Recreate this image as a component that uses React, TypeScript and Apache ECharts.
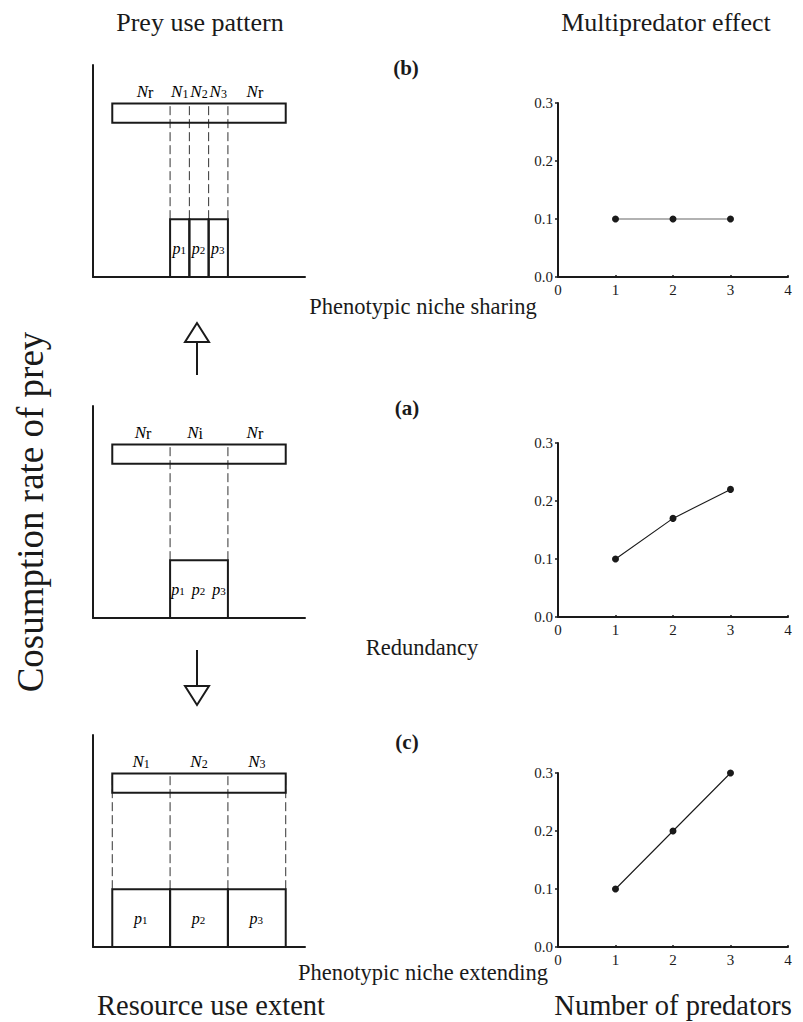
import React, { useEffect, useRef } from "react";
import * as echarts from "echarts";

// ---------- right-hand panels: multipredator effect ----------
const predators = [1, 2, 3];
const sharingEffect = [0.1, 0.1, 0.1];
const redundancyEffect = [0.1, 0.17, 0.22];
const extendingEffect = [0.1, 0.2, 0.3];
const xTickLabels = ["0", "1", "2", "3", "4"];
const yTickLabels = ["0.0", "0.1", "0.2", "0.3"];

// ---------- left-hand schematics (units: thirds of a niche width) ----------
const resourceBar = [1, 10, 8, 9]; // x0, x1, y0, y1 of the prey resource bar
const consumption = 3; // height of predator consumption blocks
const sharingParts = [[4, 5], [5, 6], [6, 7]];
const redundancyParts = [[4, 7]];
const extendingParts = [[1, 4], [4, 7], [7, 10]];
const sharingBounds = [4, 5, 6, 7];
const redundancyBounds = [4, 7];
const extendingBounds = [1, 4, 7, 10];
const sharingNames = ["r", "1", "2", "3", "r"];
const sharingNamePos = [2.7, 4.5, 5.5, 6.5, 8.4];
const redundancyNames = ["r", "i", "r"];
const redundancyNamePos = [2.6, 5.3, 8.4];
const extendingNames = ["1", "2", "3"];
const extendingNamePos = [2.5, 5.5, 8.5];
const sharingP = ["1", "2", "3"];
const sharingPPos = [4.5, 5.5, 6.5];
const redundancyP = ["1 ", "2 ", "3"];
const redundancyPPos = [5.5];
const extendingP = ["1", "2", "3"];
const extendingPPos = [2.5, 5.5, 8.5];
const nameY = 9.6;
const pY = 1.5;

const FONT = "Liberation Serif";
const INK = "#1a1a1a";

const rich = {
  i: { fontFamily: FONT, fontStyle: "italic", fontSize: 17, color: INK },
  s: { fontFamily: FONT, fontSize: 12, color: INK, padding: [5, 0, 0, 0] },
  u: { fontFamily: FONT, fontSize: 16, color: INK, padding: [2, 0, 0, 0] },
  pi: { fontFamily: FONT, fontStyle: "italic", fontSize: 16, color: INK },
  ps: { fontFamily: FONT, fontSize: 11, color: INK, padding: [4, 1, 0, 0] },
};

function rectSeries(gi: number, data: number[][], lw: number) {
  return {
    type: "custom",
    xAxisIndex: gi,
    yAxisIndex: gi,
    silent: true,
    data,
    renderItem: (params: any, api: any) => {
      const p0 = api.coord([api.value(0), api.value(3)]);
      const p1 = api.coord([api.value(1), api.value(2)]);
      return {
        type: "rect",
        shape: { x: p0[0], y: p0[1], width: p1[0] - p0[0], height: p1[1] - p0[1] },
        style: { fill: "none", stroke: INK, lineWidth: lw },
      };
    },
  };
}

function dashSeries(gi: number, bounds: number[]) {
  return {
    type: "custom",
    xAxisIndex: gi,
    yAxisIndex: gi,
    silent: true,
    data: bounds.map((x) => [x, consumption, resourceBar[3]]),
    renderItem: (params: any, api: any) => {
      const a = api.coord([api.value(0), api.value(1)]);
      const b = api.coord([api.value(0), api.value(2)]);
      return {
        type: "line",
        shape: { x1: a[0], y1: a[1], x2: b[0], y2: b[1] },
        style: { stroke: "#333", lineWidth: 1, lineDash: [9, 4] },
      };
    },
  };
}

function textSeries(gi: number, pos: number[], y: number, texts: string[]) {
  return {
    type: "custom",
    xAxisIndex: gi,
    yAxisIndex: gi,
    silent: true,
    data: pos.map((x) => [x, y]),
    renderItem: (params: any, api: any) => {
      const p = api.coord([api.value(0), api.value(1)]);
      return {
        type: "text",
        x: p[0],
        y: p[1],
        style: { text: texts[params.dataIndex], rich, align: "center", verticalAlign: "middle" },
      };
    },
  };
}

function lineSeries(gi: number, vals: number[], color: string) {
  return {
    type: "line",
    xAxisIndex: gi,
    yAxisIndex: gi,
    data: predators.map((x, i) => [x, vals[i]]),
    symbol: "circle",
    symbolSize: 7,
    itemStyle: { color: INK },
    lineStyle: { color, width: 1.1 },
  };
}

const schematicGrids = [
  { left: 93, top: 65, width: 212, height: 212 },
  { left: 93, top: 406, width: 212, height: 212 },
  { left: 93, top: 735, width: 212, height: 212 },
];
const effectGrids = [
  { left: 558, top: 103, width: 230, height: 174 },
  { left: 558, top: 443, width: 230, height: 174 },
  { left: 558, top: 773, width: 230, height: 174 },
];

export default function App() {
  const ref = useRef<HTMLDivElement>(null);
  useEffect(() => {
    if (!ref.current) return;
    const chart = echarts.init(ref.current, undefined, { renderer: "svg" });

    const axisLine = { show: true, lineStyle: { color: INK, width: 2 } };
    const schemX = schematicGrids.map((_, i) => ({
      type: "value", gridIndex: i, min: 0, max: 11, axisLine, axisTick: { show: false },
      axisLabel: { show: false }, splitLine: { show: false },
    }));
    const schemY = schematicGrids.map((_, i) => ({
      type: "value", gridIndex: i, min: 0, max: 11, axisLine, axisTick: { show: false },
      axisLabel: { show: false }, splitLine: { show: false },
    }));
    const effX = effectGrids.map((_, i) => ({
      type: "value", gridIndex: 3 + i, min: 0, max: 4, interval: 1,
      axisLine, axisTick: { show: true, inside: true, length: 2, lineStyle: { color: INK, width: 1.5 } },
      axisLabel: { fontFamily: FONT, fontSize: 15, color: INK, margin: 5, formatter: (v: number) => xTickLabels[Math.round(v)] },
      splitLine: { show: false },
    }));
    const effY = effectGrids.map((_, i) => ({
      type: "value", gridIndex: 3 + i, min: 0, max: 0.3, interval: 0.1,
      axisLine, axisTick: { show: true, length: 3, lineStyle: { color: INK, width: 1.5 } },
      axisLabel: { fontFamily: FONT, fontSize: 15, color: INK, margin: 5, formatter: (v: number) => yTickLabels[Math.round(v * 10)] },
      splitLine: { show: false },
    }));

    const nm = (names: string[], sub: (s: string) => string) => names.map((n) => `{i|N}${sub(n)}`);
    const nSub = (s: string) => (s === "r" || s === "i" ? `{u|${s}}` : `{s|${s}}`);
    const pl = (names: string[]) => names.map((n) => `{pi|p}{ps|${n}}`);

    const series: any[] = [
      // (b) sharing
      dashSeries(0, sharingBounds),
      rectSeries(0, [resourceBar], 2),
      rectSeries(0, sharingParts.map(([a, b]) => [a, b, 0, consumption]), 2),
      textSeries(0, sharingNamePos, nameY, nm(sharingNames, nSub)),
      textSeries(0, sharingPPos, pY, pl(sharingP)),
      // (a) redundancy
      dashSeries(1, redundancyBounds),
      rectSeries(1, [resourceBar], 2),
      rectSeries(1, redundancyParts.map(([a, b]) => [a, b, 0, consumption]), 2),
      textSeries(1, redundancyNamePos, nameY, nm(redundancyNames, nSub)),
      textSeries(1, redundancyPPos, pY, [pl(redundancyP).join(" ")]),
      // (c) extending
      dashSeries(2, extendingBounds),
      rectSeries(2, [resourceBar], 2),
      rectSeries(2, extendingParts.map(([a, b]) => [a, b, 0, consumption]), 2),
      textSeries(2, extendingNamePos, nameY, nm(extendingNames, nSub)),
      textSeries(2, extendingPPos, pY, pl(extendingP)),
      // effects
      lineSeries(3, sharingEffect, "#666"),
      lineSeries(4, redundancyEffect, INK),
      lineSeries(5, extendingEffect, INK),
    ];

    const txt = (text: string, x: number, y: number, size: number, extra: any = {}) => ({
      type: "text", x, y,
      style: { text, fontFamily: FONT, fontSize: size, fill: INK, align: "center", verticalAlign: "middle", ...extra },
    });

    const graphic: any[] = [
      txt("Prey use pattern", 200, 22, 26),
      txt("Multipredator effect", 666, 22, 26),
      txt("Resource use extent", 211, 1005, 28.5),
      txt("Number of predators", 673, 1005, 28.5),
      { type: "text", x: 30, y: 512, rotation: Math.PI / 2,
        style: { text: "Cosumption rate of prey", fontFamily: FONT, fontSize: 37, fill: INK, align: "center", verticalAlign: "middle" } },
      txt("(b)", 406, 68, 21, { fontWeight: "bold" }),
      txt("(a)", 407, 408, 21, { fontWeight: "bold" }),
      txt("(c)", 407, 742, 21, { fontWeight: "bold" }),
      txt("Phenotypic niche sharing", 423, 306, 22.5),
      txt("Redundancy", 422, 647, 22.5),
      txt("Phenotypic niche extending", 423, 972, 22.5),
      // arrows
      { type: "line", shape: { x1: 197, y1: 342, x2: 197, y2: 375 }, style: { stroke: INK, lineWidth: 2 } },
      { type: "polygon", shape: { points: [[197, 323], [185, 342], [209, 342]] }, style: { fill: "#fff", stroke: INK, lineWidth: 2 } },
      { type: "line", shape: { x1: 197, y1: 650, x2: 197, y2: 686 }, style: { stroke: INK, lineWidth: 2 } },
      { type: "polygon", shape: { points: [[185, 686], [209, 686], [197, 705]] }, style: { fill: "#fff", stroke: INK, lineWidth: 2 } },
    ];

    chart.setOption({
      animation: false,
      backgroundColor: "#fff",
      grid: [...schematicGrids, ...effectGrids],
      xAxis: [...schemX, ...effX],
      yAxis: [...schemY, ...effY],
      series,
      graphic,
    });
    return () => chart.dispose();
  }, []);
  return <div ref={ref} style={{ position: "absolute", left: 0, top: 0, width: 803, height: 1022 }} />;
}
